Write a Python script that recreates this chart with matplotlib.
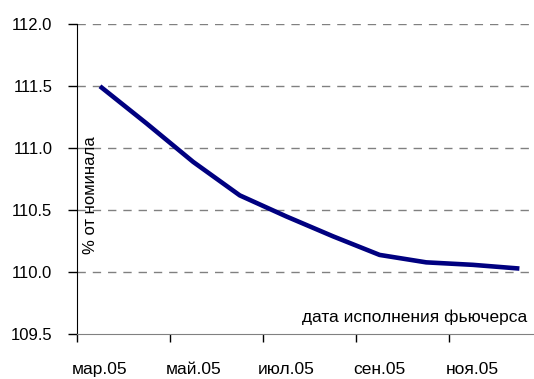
import numpy as np
import matplotlib
matplotlib.use('Agg')
import matplotlib.pyplot as plt

plt.rcParams['font.family'] = ['Liberation Sans', 'DejaVu Sans']

# futures delivery months and price, % of face value
months = ['мар.05', 'апр.05', 'май.05', 'июн.05', 'июл.05',
          'авг.05', 'сен.05', 'окт.05', 'ноя.05', 'дек.05']
price = [111.50, 111.20, 110.89, 110.62, 110.45,
         110.29, 110.14, 110.08, 110.06, 110.03]

yticks = [109.5, 110.0, 110.5, 111.0, 111.5, 112.0]

fig = plt.figure(figsize=(5.34, 3.79), dpi=100)
ax = fig.add_axes([0.1436, 0.118, 0.8727, 0.818])

x = np.arange(len(months)) + 0.5
ax.plot(x, price, color='#000080', lw=3.3, solid_capstyle='butt', zorder=3)

ax.set_xlim(0, len(months))
ax.set_ylim(109.5, 112.0)

# ticks on category boundaries, labels on every other category centre
ax.set_xticks(np.arange(0, len(months), 2))
ax.set_xticklabels([])
ax.set_xticks(x[::2], minor=True)
ax.set_xticklabels(months[::2], minor=True, fontsize=12.5)
ax.tick_params(axis='x', which='major', length=5.5, width=1, direction='out')
ax.tick_params(axis='x', which='minor', length=0, pad=20)

ax.set_yticks(yticks)
ax.set_yticklabels([f'{v:.1f}' for v in yticks], fontsize=12)
ax.tick_params(axis='y', length=6.5, width=1, pad=11, direction='out')

for v in yticks[1:]:
    ax.axhline(v, color='#808080', lw=1, dashes=(6, 5), zorder=1)

for s in ['top', 'right']:
    ax.spines[s].set_visible(False)
ax.spines['left'].set_color('black')
ax.spines['bottom'].set_color('#808080')

ax.text(0.3, 110.62, '% от номинала', rotation=90, ha='center', va='center',
        fontsize=12)
ax.text(9.66, 109.64, 'дата исполнения фьючерса', ha='right', va='center',
        fontsize=12.5)

fig.savefig('out.png', dpi=100)
